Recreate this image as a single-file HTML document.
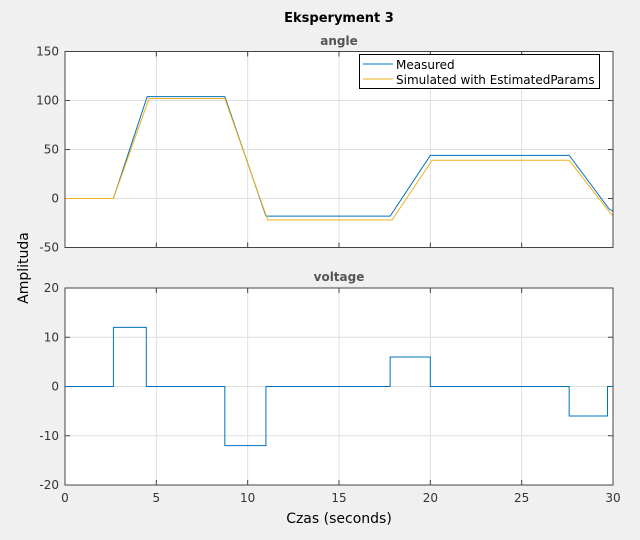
<!DOCTYPE html>
<html><head><meta charset="utf-8"><style>
body{margin:0;background:#f0f0f0;}
svg text{font-family:"DejaVu Sans","Liberation Sans",sans-serif;}
</style></head><body>
<svg width="640" height="535">
<rect width="640" height="535" fill="#f0f0f0"/>
<text x="339" y="22" text-anchor="middle" font-size="13" font-weight="bold" fill="#000">Eksperyment 3</text>
<text x="339" y="45" text-anchor="middle" font-size="12" font-weight="bold" fill="#555">angle</text>
<text x="339" y="281" text-anchor="middle" font-size="12" font-weight="bold" fill="#555">voltage</text>
<text x="339" y="523" text-anchor="middle" font-size="14" fill="#000">Czas (seconds)</text>
<text transform="translate(28,268) rotate(-90)" text-anchor="middle" font-size="14" fill="#000">Amplituda</text>
<g id="p1"></g><g id="p2"></g>
<g>
<rect x="359.5" y="54.5" width="240" height="34" fill="#fff" stroke="#000"/>
<line x1="363" y1="64" x2="393" y2="64" stroke="#0072bd"/>
<text x="396" y="69" font-size="12">Measured</text>
<line x1="363" y1="79" x2="393" y2="79" stroke="#edb120"/>
<text x="396" y="84" font-size="12">Simulated with EstimatedParams</text>
</g>
</svg>
<script>
const xTicks=[0,5,10,15,20,25,30];
const angleTicks=[-50,0,50,100,150];
const voltTicks=[-20,-10,0,10,20];
const measT=[0,2.65,4.5,8.75,11,17.8,20,27.6,29.8,30];
const measV=[0,0,104,104,-18,-18,44,44,-11,-13];
const simT=[0,2.65,4.6,8.75,11.1,17.9,20.1,27.6,29.9,30];
const simV=[0,0,102,102,-22,-22,39,39,-16,-17];
const voltT=[0,2.65,2.65,4.45,4.45,8.75,8.75,11,11,17.8,17.8,20,20,27.6,27.6,29.7,29.7,30];
const voltV=[0,0,12,12,0,0,-12,-12,0,0,6,6,0,0,-6,-6,0,0];
const NS="http://www.w3.org/2000/svg";
const X0=65,X1=613;
const sx=t=>X0+(t-0)/30*(X1-X0);
function mk(p,tag,a){const e=document.createElementNS(NS,tag);for(const k in a)e.setAttribute(k,a[k]);p.appendChild(e);return e;}
function panel(g,top,bot,ticks,lo,hi){
 const sy=v=>bot-(v-lo)/(hi-lo)*(bot-top);
 mk(g,'rect',{x:X0,y:top,width:X1-X0,height:bot-top,fill:'#fff'});
 xTicks.forEach(t=>{const l=mk(g,'line',{x1:sx(t),x2:sx(t),y1:top,y2:bot,stroke:'#dfdfdf'});
  
  
  mk(g,'line',{x1:sx(t),x2:sx(t),y1:bot,y2:bot-5,stroke:'#444'});mk(g,'line',{x1:sx(t),x2:sx(t),y1:top,y2:top+5,stroke:'#444'});});
 ticks.forEach(v=>{const l=mk(g,'line',{x1:X0,x2:X1,y1:sy(v),y2:sy(v),stroke:'#dfdfdf'});
  
  
  mk(g,'line',{x1:X0,x2:X0+5,y1:sy(v),y2:sy(v),stroke:'#444'});mk(g,'line',{x1:X1,x2:X1-5,y1:sy(v),y2:sy(v),stroke:'#444'});
  const tx=mk(g,'text',{x:X0-6,y:sy(v)+4,'text-anchor':'end','font-size':12,fill:'#333'});tx.textContent=v;
  
  });
 return sy;
}
function line(g,T,V,sy,c,name){const p=mk(g,'polyline',{points:T.map((t,i)=>sx(t)+','+sy(V[i])).join(' '),fill:'none',stroke:c,'stroke-width':1});
 
 }
const g1=document.getElementById('p1'),g2=document.getElementById('p2');
const sy1=panel(g1,51.5,247.5,angleTicks,-50,150);
line(g1,measT,measV,sy1,'#0072bd','measured-angle-line');
line(g1,simT,simV,sy1,'#edb120','simulated-angle-line');
mk(g1,'rect',{x:X0,y:51.5,width:X1-X0,height:196,fill:'none',stroke:'#444'});
const sy2=panel(g2,288,485,voltTicks,-20,20);
line(g2,voltT,voltV,sy2,'#0072bd','voltage-line');
mk(g2,'rect',{x:X0,y:288,width:X1-X0,height:197,fill:'none',stroke:'#444'});
xTicks.forEach(t=>{const tx=mk(g2,'text',{x:sx(t),y:502,'text-anchor':'middle','font-size':12,fill:'#333'});tx.textContent=t;
 
 });
</script>
</body></html>
